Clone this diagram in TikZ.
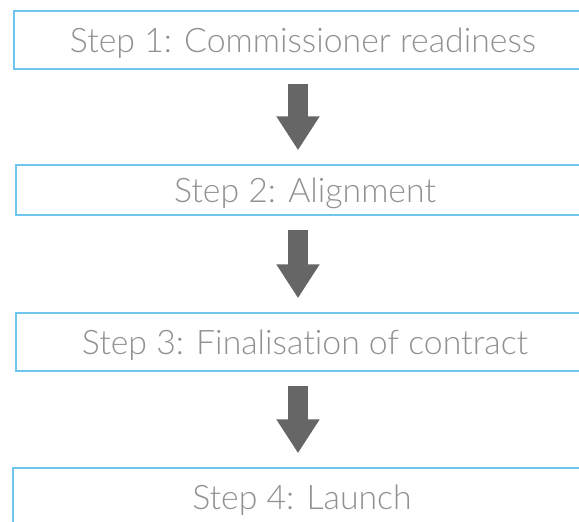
\documentclass[tikz,border=0pt]{standalone}
\usepackage{fontspec}
\setmainfont{Lato Light}[Ligatures=NoCommon]
\usetikzlibrary{arrows.meta}
\definecolor{boxline}{RGB}{110,198,238}
\definecolor{steptext}{RGB}{145,145,145}
\definecolor{arrowfill}{RGB}{102,102,102}
\tikzset{
  stepbox/.style={draw=boxline, line width=1.5pt, fill=white,
    minimum width=578pt, inner sep=0pt, text=steptext,
    text height=24.4pt, text depth=0pt,
    font=\fontsize{33.8}{38}\selectfont},
  flowarrow/.style={draw=arrowfill, line width=20pt,
    -{Triangle[width=41pt,length=34pt]},
    shorten <=14pt, shorten >=14pt}
}
\begin{document}
\begin{tikzpicture}[x=1pt,y=-1pt]
  \useasboundingbox (0,0) rectangle (579,522);
  \clip (0,0) rectangle (579,522);
  \fill[white] (0,0) rectangle (579,522);
  % the four stages, one under the other
  \node[stepbox, minimum height=58pt] (s1) at (303,40) {Step 1: Commissioner readiness};
  \node[stepbox, minimum height=50pt] (s2) at (305,190) {Step 2: Alignment};
  \node[stepbox, minimum height=58pt] (s3) at (305,342) {Step 3: Finalisation of contract};
  \node[stepbox, minimum height=58pt] (s4) at (302,497) {Step 4: Launch};
  % common vertical axis of the block arrows
  \coordinate (axis) at (298,0);
  \draw[flowarrow] (s1.south -| axis) -- (s2.north -| axis);
  \draw[flowarrow] (s2.south -| axis) -- (s3.north -| axis);
  \draw[flowarrow] (s3.south -| axis) -- (s4.north -| axis);
\end{tikzpicture}
\end{document}
